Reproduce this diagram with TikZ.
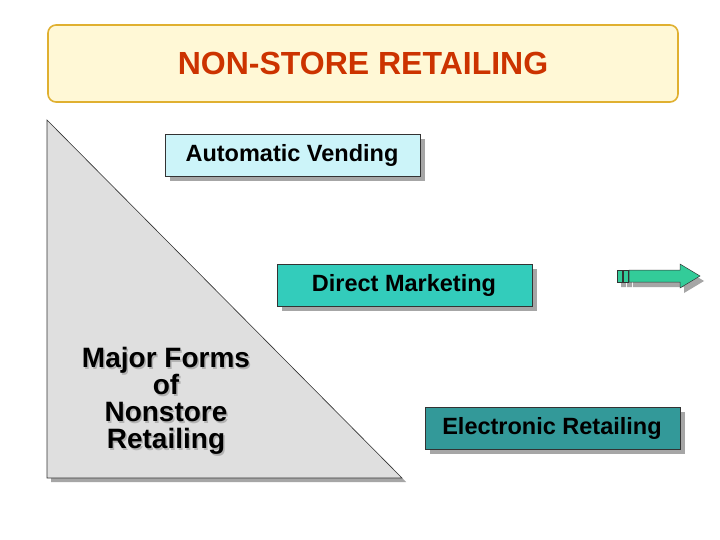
\documentclass[tikz,border=0pt]{standalone}
\usepackage{fontspec}
\setmainfont{Liberation Sans}
\begin{document}
\begin{tikzpicture}[x=1pt,y=-1pt,
  sh/.style={fill=gray!70,draw=none},
  lbl/.style={font=\bfseries\fontsize{23.5}{26}\selectfont},
  boxx/.style={draw=black!80,line width=0.6pt}]
\useasboundingbox (0,0) rectangle (720,540);
\fill[white] (0,0) rectangle (720,540);
% title
\draw[rounded corners=8pt,draw={rgb,255:red,224;green,176;blue,48},line width=1.6pt,fill={rgb,255:red,255;green,248;blue,214}] (48,25) rectangle (678,102);
\node[font=\bfseries\fontsize{32}{36}\selectfont,text={rgb,255:red,204;green,51;blue,0}] (title) at (363,63) {NON-STORE RETAILING};
% triangle
\fill[gray!70] (51,124) -- (406,482) -- (51,482) -- cycle;
\draw[fill=gray!25,draw=black!80,line width=0.6pt] (47,120) -- (402,478) -- (47,478) -- cycle;
\node[align=center,font=\bfseries\fontsize{28}{27}\selectfont,text=gray!60] at (167.5,402.5) {Major Forms\\of\\Nonstore\\Retailing};
\node[align=center,font=\bfseries\fontsize{28}{27}\selectfont] (tri) at (166,401) {Major Forms\\of\\Nonstore\\Retailing};
% boxes
\fill[sh] (170,139) rectangle (425,181);
\draw[boxx,fill={rgb,255:red,204;green,244;blue,249}] (165,134) rectangle (420,176);
\node[lbl] (av) at (292,155) {Automatic Vending};
\fill[sh] (282,269) rectangle (537,311);
\draw[boxx,fill={rgb,255:red,51;green,204;blue,187}] (277,264) rectangle (532,306);
\node[lbl] (dm) at (404,285) {Direct Marketing};
\fill[sh] (430,412) rectangle (685,454);
\draw[boxx,fill={rgb,255:red,51;green,153;blue,153}] (425,407) rectangle (680,449);
\node[lbl] (er) at (552,428) {Electronic Retailing};
% arrow
\begin{scope}[shift={(4,5)}]
\fill[gray!70] (617,270) rectangle (622,282) (623,270) rectangle (628,282);
\fill[gray!70] (629,270) -- (680,270) -- (680,264) -- (700,276) -- (680,288) -- (680,282) -- (629,282) -- cycle;
\end{scope}
\begin{scope}[draw=black!80,line width=0.5pt,fill={rgb,255:red,51;green,204;blue,153}]
\filldraw (617,270) rectangle (622,282) (623,270) rectangle (628,282);
\filldraw (629,270) -- (680,270) -- (680,264) -- (700,276) -- (680,288) -- (680,282) -- (629,282) -- cycle;
\end{scope}
\end{tikzpicture}
\end{document}
